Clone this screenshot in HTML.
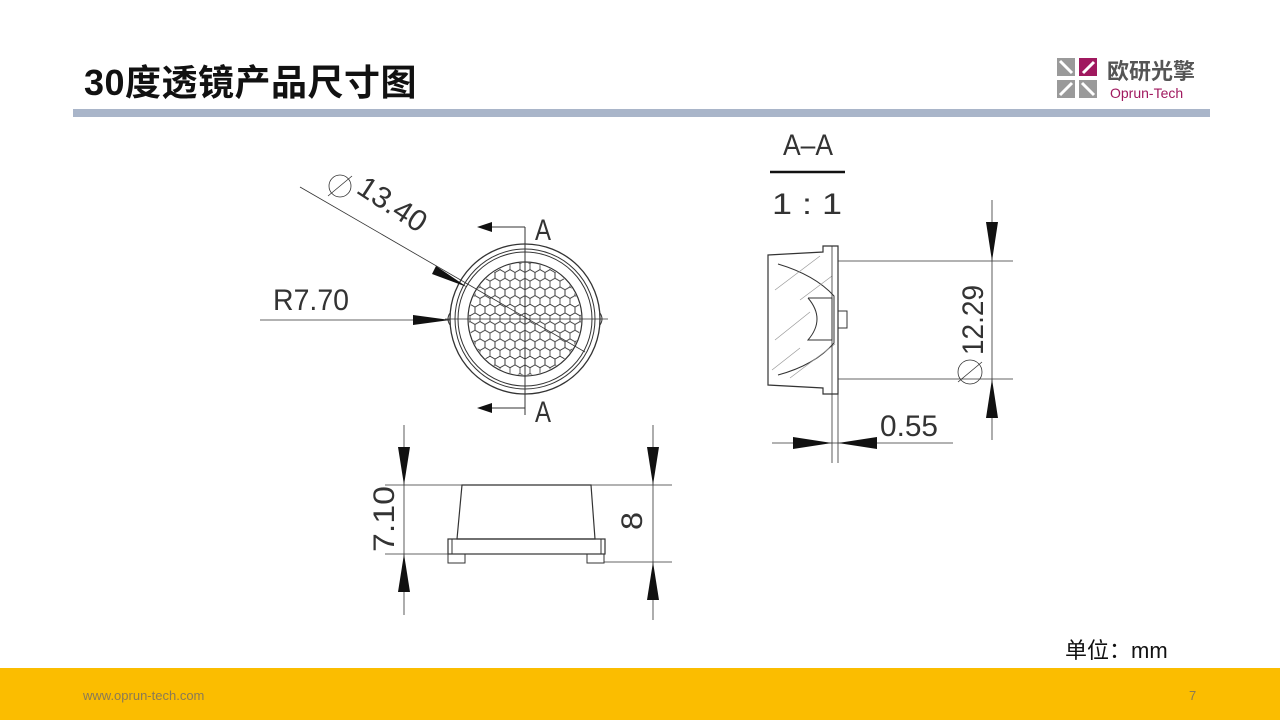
<!DOCTYPE html>
<html><head><meta charset="utf-8"><style>
html,body{margin:0;padding:0;background:#fff;}
body{width:1280px;height:720px;position:relative;overflow:hidden;font-family:"Liberation Sans","Noto Sans CJK SC",sans-serif;}
.t{position:absolute;left:84px;top:54px;font-size:36px;font-weight:bold;color:#111;letter-spacing:0.5px;}
.bar{position:absolute;left:73px;top:109px;width:1137px;height:8px;background:#a9b5c9;}
.foot{position:absolute;left:0;top:668px;width:1280px;height:52px;background:#fbbd00;}
.url{position:absolute;left:83px;top:688px;font-size:13px;color:#8a7a55;}
.pg{position:absolute;left:1189px;top:688px;font-size:13px;color:#8a7a55;}
.unit{position:absolute;left:1065px;top:633px;font-size:22px;color:#111;}
</style></head><body>
<div class="t">30度透镜产品尺寸图</div>
<div class="bar"></div>
<div class="foot"></div>
<div class="url">www.oprun-tech.com</div>
<div class="pg">7</div>
<div class="unit">单位：mm</div>
<svg width="1280" height="720" style="position:absolute;left:0;top:0" xmlns="http://www.w3.org/2000/svg">
<defs>
<pattern id="hex" width="10" height="17.32" patternUnits="userSpaceOnUse" x="520" y="310">
<g fill="none" stroke="#333" stroke-width="0.8">
<path d="M5,2.89 L10,5.77 L10,11.55 L5,14.43 L0,11.55 L0,5.77 Z"/>
<path d="M0,-5.77 L5,-2.89 L5,2.89 L0,5.77 L-5,2.89 L-5,-2.89 Z"/>
<path d="M10,-5.77 L15,-2.89 L15,2.89 L10,5.77 L5,2.89 L5,-2.89 Z"/>
<path d="M0,11.55 L5,14.43 L5,20.21 L0,23.09 L-5,20.21 L-5,14.43 Z"/>
<path d="M10,11.55 L15,14.43 L15,20.21 L10,23.09 L5,20.21 L5,14.43 Z"/>
</g>
</pattern>
<clipPath id="cc"><circle cx="525" cy="319" r="56"/></clipPath>
</defs>
<!-- logo -->
<g>
<rect x="1057" y="58" width="18" height="18" fill="#9a9a9a"/>
<rect x="1079" y="58" width="18" height="18" fill="#a0195f"/>
<rect x="1057" y="80" width="18" height="18" fill="#9a9a9a"/>
<rect x="1079" y="80" width="18" height="18" fill="#9a9a9a"/>
<path d="M1060,61 L1072,73 M1083,73 L1094,62 M1072,83 L1060,95 M1082,83 L1094,95" stroke="#fff" stroke-width="3"/>
<text x="1107" y="79" font-size="22" font-weight="bold" fill="#555" font-family="Noto Sans CJK SC,sans-serif">欧研光擎</text>
<text x="1110" y="98" font-size="14" fill="#a0195f" font-family="Liberation Sans,sans-serif">Oprun-Tech</text>
</g>
<g fill="none" stroke="#333" stroke-width="1">
<!-- front view -->
<circle cx="525" cy="319" r="75" stroke-width="1.3"/>
<circle cx="525" cy="319" r="70"/>
<circle cx="525" cy="319" r="67"/>
<circle cx="525" cy="319" r="57" stroke-width="1.2"/>
<path d="M450,313 Q446,319 450,325 M600,313 Q604,319 600,325"/>
<rect x="468" y="262" width="114" height="114" fill="url(#hex)" clip-path="url(#cc)" stroke="none"/>
<line x1="525" y1="227" x2="525" y2="415"/>
<line x1="445" y1="319" x2="608" y2="319" stroke-width="0.8"/>
<polyline points="490,227 525,227"/><polyline points="490,408 525,408"/>
<line x1="300" y1="187" x2="585" y2="352" stroke-width="0.8"/>
<line x1="260" y1="320" x2="450" y2="320" stroke-width="0.8"/>
<!-- side view -->
<path d="M462,485 L591,485 L595,539 L457,539 Z" stroke-width="1.2"/>
<rect x="448" y="539" width="157" height="15" stroke-width="1.2"/>
<line x1="452" y1="539" x2="452" y2="554"/><line x1="601" y1="539" x2="601" y2="554"/>
<path d="M448,554 V563 H465 V554 M587,554 V563 H604 V554"/>
<line x1="404" y1="425" x2="404" y2="615" stroke-width="0.8"/>
<line x1="653" y1="425" x2="653" y2="620" stroke-width="0.8"/>
<line x1="385" y1="485" x2="672" y2="485" stroke-width="0.8"/>
<line x1="385" y1="554" x2="448" y2="554" stroke-width="0.8"/>
<line x1="604" y1="562" x2="672" y2="562" stroke-width="0.8"/>
<!-- section -->
<path d="M768,255 L823,252 L823,246 L838,246 L838,394 L823,394 L823,388 L768,385 Z" stroke-width="1.2"/>
<path d="M778,264 Q815,275 834,296 L834,343 Q815,365 778,375" />
<path d="M808,298 L832,298 L832,340 L808,340 Q826,319 808,298"/>
<rect x="838" y="311" width="9" height="17"/>
<path d="M775,290 L820,256 M775,340 L810,312 M790,378 L835,344 M772,370 L800,348 M800,300 L832,276" stroke="#999" stroke-width="0.7"/>
<line x1="832" y1="246" x2="832" y2="463" stroke-width="0.8"/>
<line x1="838" y1="394" x2="838" y2="463" stroke-width="0.8"/>
<line x1="838" y1="261" x2="1013" y2="261" stroke-width="0.8"/>
<line x1="838" y1="379" x2="1013" y2="379" stroke-width="0.8"/>
<line x1="992" y1="200" x2="992" y2="440" stroke-width="0.8"/>
<line x1="772" y1="443" x2="953" y2="443" stroke-width="0.8"/>
<circle cx="970" cy="372" r="12" stroke-width="0.8"/><line x1="958" y1="382" x2="982" y2="362" stroke-width="0.8"/>
<circle cx="340" cy="186" r="11" stroke-width="0.8"/><line x1="328" y1="196" x2="352" y2="176" stroke-width="0.8"/>
<line x1="770" y1="172" x2="845" y2="172" stroke-width="2.5" stroke="#111"/>
</g>
<g fill="#111">
<polygon points="477,227 492,222 492,232"/><polygon points="477,408 492,403 492,413"/>
<polygon points="467,287 436,266 432,274"/>
<polygon points="450,320 413,315 413,325"/>
<polygon points="404,485 398,447 410,447"/><polygon points="404,554 398,592 410,592"/>
<polygon points="653,485 647,447 659,447"/><polygon points="653,562 647,600 659,600"/>
<polygon points="992,261 986,222 998,222"/><polygon points="992,379 986,418 998,418"/>
<polygon points="832,443 793,437 793,449"/><polygon points="838,443 877,437 877,449"/>
</g>
<g font-family="Liberation Sans,sans-serif" fill="#333" font-size="30">
<text x="535" y="240" textLength="16" lengthAdjust="spacingAndGlyphs">A</text>
<text x="535" y="422" textLength="16" lengthAdjust="spacingAndGlyphs">A</text>
<text x="273" y="310" textLength="76" lengthAdjust="spacingAndGlyphs">R7.70</text>
<text transform="translate(355,192) rotate(33)" textLength="76" lengthAdjust="spacingAndGlyphs">13.40</text>
<text transform="translate(394,552) rotate(-90)" textLength="66" lengthAdjust="spacingAndGlyphs">7.10</text>
<text transform="translate(642,530) rotate(-90)" textLength="18" lengthAdjust="spacingAndGlyphs">8</text>
<text transform="translate(983,355) rotate(-90)" textLength="70" lengthAdjust="spacingAndGlyphs">12.29</text>
<text x="880" y="436" textLength="58" lengthAdjust="spacingAndGlyphs">0.55</text>
<text x="783" y="155" textLength="50" lengthAdjust="spacingAndGlyphs">A–A</text>
<text x="772" y="214" textLength="70" lengthAdjust="spacingAndGlyphs">1 : 1</text>
</g>
</svg>
</body></html>
